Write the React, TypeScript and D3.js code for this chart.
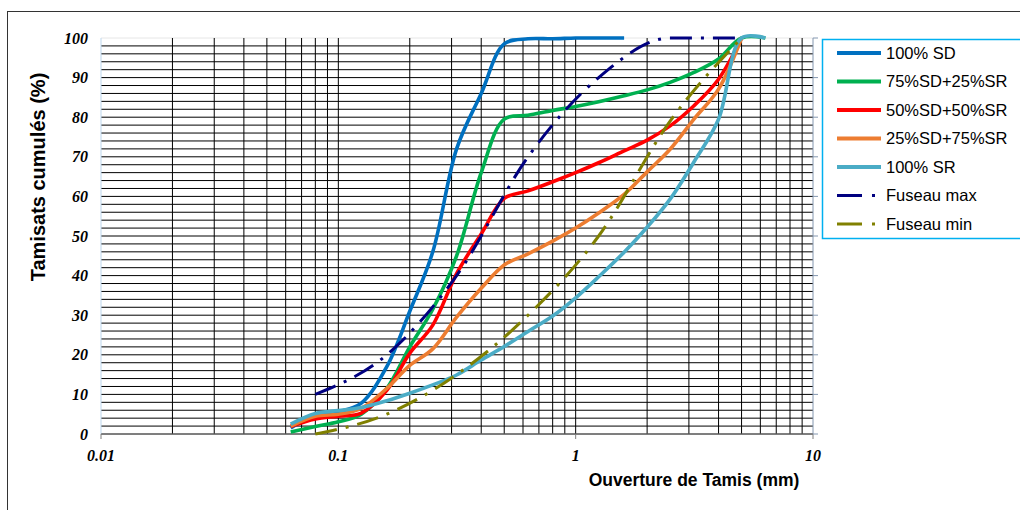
import React from 'react';
import * as d3 from 'd3';

// ---- data ----
const sieveSizes = [0.063, 0.08, 0.1, 0.125, 0.16, 0.2, 0.25, 0.315, 0.4, 0.5, 0.63, 0.8, 1, 1.25, 1.6, 2, 2.5, 3.15, 4, 5, 6.3];
const sd100Values = [1.5, 4.8, 5.6, 7.8, 17, 31, 46, 72, 86, 98.5, 99.8, 99.8, 100, 100, 100];
const sd75Values = [0.5, 1.9, 3.1, 5, 11.5, 22, 31.5, 45, 66, 79.5, 80.5, 81.7, 82.7, 83.9, 85.4, 86.9, 88.8, 91.3, 94.7, 100, 100];
const sd50Values = [1.9, 3.8, 4.5, 5.3, 11, 20.4, 27.5, 40.5, 50.5, 59.5, 61.4, 63.7, 66, 68.5, 71.5, 74.2, 77.8, 82.9, 89.6, 100];
const sd25Values = [2, 4.5, 5, 6.5, 11.5, 17.3, 21.5, 29.5, 36.8, 42.7, 45.5, 48.7, 52, 55.8, 60.5, 66.2, 71.9, 79.5, 87.1, 100];
const sr100Values = [2.5, 5.2, 5.9, 6.7, 8.4, 10.3, 12.4, 14.9, 18.7, 22.1, 25.9, 29.8, 34.4, 39.7, 45.9, 52.2, 59.3, 68.7, 79.5, 100, 100];
const fuseauSizes = [0.08, 0.16, 0.315, 0.63, 1.25, 2.5, 5];
const fuseauMaxValues = [10, 20, 40, 70, 90, 100, 100];
const fuseauMinValues = [0, 5, 15, 30, 50, 79, 100];

const seriesNames = ['100% SD', '75%SD+25%SR', '50%SD+50%SR', '25%SD+75%SR', '100% SR', 'Fuseau max', 'Fuseau min'];
const seriesColors = ['#0070C0', '#00B050', '#FF0000', '#ED7D31', '#4BACC6', '#000080', '#808000'];

const yTickValues = [0, 10, 20, 30, 40, 50, 60, 70, 80, 90, 100];
const xTickValues = [0.01, 0.1, 1, 10];
const xTickLabels = ['0.01', '0.1', '1', '10'];
const xTitle = 'Ouverture de Tamis (mm)';
const yTitle = 'Tamisats cumulés (%)';

const seriesList = [
  { name: seriesNames[0], color: seriesColors[0], xs: sieveSizes, ys: sd100Values, dashed: false },
  { name: seriesNames[1], color: seriesColors[1], xs: sieveSizes, ys: sd75Values, dashed: false },
  { name: seriesNames[2], color: seriesColors[2], xs: sieveSizes, ys: sd50Values, dashed: false },
  { name: seriesNames[3], color: seriesColors[3], xs: sieveSizes, ys: sd25Values, dashed: false },
  { name: seriesNames[4], color: seriesColors[4], xs: sieveSizes, ys: sr100Values, dashed: false },
  { name: seriesNames[5], color: seriesColors[5], xs: fuseauSizes, ys: fuseauMaxValues, dashed: true },
  { name: seriesNames[6], color: seriesColors[6], xs: fuseauSizes, ys: fuseauMinValues, dashed: true },
];

const W = 1020;
const H = 510;
const L = 101, R = 813, T = 38, B = 434;

export default function App() {
  const x = d3.scaleLog().domain([0.01, 10]).range([L, R]);
  const y = d3.scaleLinear().domain([0, 100]).range([B, T]);

  const minorX: number[] = [];
  for (let e = -2; e <= 0; e++) {
    for (let m = 1; m <= 9; m++) minorX.push(m * Math.pow(10, e));
  }
  minorX.push(10);
  const gridY = d3.range(0, 101, 2);

  const smoothLine = d3
    .line<[number, number]>()
    .x((d) => x(d[0]))
    .y((d) => y(d[1]))
    .curve(d3.curveCatmullRom.alpha(0.5));
  const monoLine = d3
    .line<[number, number]>()
    .x((d) => x(d[0]))
    .y((d) => y(d[1]))
    .curve(d3.curveMonotoneX);

  const dash = '22 9 3 9';
  const legendY0 = 53;
  const legendStep = 28.5;

  return (
    <svg width={W} height={H} style={{ position: 'absolute', left: 0, top: 0, background: '#fff' }}>
      <rect x={7.5} y={11.5} width={1100} height={600} fill="#fff" stroke="#333" strokeWidth={1} />
      {/* horizontal grid */}
      {gridY.map((v) => (
        <line key={'h' + v} x1={L} x2={R} y1={y(v)} y2={y(v)} stroke={v === 100 ? '#e6e6e6' : '#000'} strokeWidth={1} />
      ))}
      {/* vertical grid */}
      {minorX.map((v, i) => (
        <line key={'v' + i} x1={x(v)} x2={x(v)} y1={T} y2={B} stroke={v === 0.01 ? '#BDD7EE' : v === 10 ? '#8497B0' : '#000'} strokeWidth={1} />
      ))}
      {/* bottom axis */}
      <line x1={L} x2={R} y1={B} y2={B} stroke="#7f7f7f" strokeWidth={1.2} />
      {xTickValues.map((v) => (
        <line key={'xt' + v} x1={x(v)} x2={x(v)} y1={B} y2={B + 5} stroke="#7f7f7f" strokeWidth={1} />
      ))}
      {/* right axis ticks */}
      {yTickValues.map((v) => (
        <line key={'rt' + v} x1={R} x2={R + 5} y1={y(v)} y2={y(v)} stroke="#8497B0" strokeWidth={1} />
      ))}
      {/* series */}
      {seriesList.map((s) => {
        const pts = s.xs.slice(0, s.ys.length).map((xv, i) => [xv, s.ys[i]] as [number, number]);
        return (
          <path
            key={s.name}
            d={(s.dashed ? monoLine(pts) : smoothLine(pts)) || ''}
            fill="none"
            stroke={s.color}
            strokeWidth={s.dashed ? 3 : 3.6}
            strokeDasharray={s.dashed ? dash : undefined}
            strokeLinejoin="round"
          />
        );
      })}
      {/* y tick labels */}
      {yTickValues.map((v) => (
        <text
          key={'yl' + v}
          x={88}
          y={y(v)}
          dy="0.35em"
          textAnchor="end"
          fontFamily="'Liberation Serif', 'Times New Roman', serif"
          fontWeight="bold"
          fontStyle="italic"
          fontSize={16}
          fill="#000"
        >
          {v}
        </text>
      ))}
      {/* x tick labels */}
      {xTickValues.map((v, i) => (
        <text
          key={'xl' + v}
          x={x(v)}
          y={461}
          textAnchor="middle"
          fontFamily="'Liberation Serif', 'Times New Roman', serif"
          fontWeight="bold"
          fontStyle="italic"
          fontSize={16}
          fill="#000"
        >
          {xTickLabels[i]}
        </text>
      ))}
      {/* axis titles */}
      <text x={694} y={486} textAnchor="middle" fontFamily="'Liberation Sans', Arial, sans-serif" fontWeight="bold" fontSize={17.5} fill="#000">
        {xTitle}
      </text>
      <text
        transform={`translate(45,177) rotate(-90)`}
        textAnchor="middle"
        fontFamily="'Liberation Sans', Arial, sans-serif"
        fontWeight="bold"
        fontSize={20}
        fill="#000"
      >
        {yTitle}
      </text>
      {/* legend */}
      <rect x={822.5} y={39.5} width={220} height={199} fill="#fff" stroke="#00B0F0" strokeWidth={1.5} />
      {seriesList.map((s, i) => {
        const ly = legendY0 + i * legendStep;
        return (
          <g key={'lg' + s.name}>
            <line
              x1={837}
              x2={881}
              y1={ly}
              y2={ly}
              stroke={s.color}
              strokeWidth={s.dashed ? 3 : 4}
              strokeDasharray={s.dashed ? '25 10 3 10' : undefined}
            />
            <text x={886} y={ly} dy="0.36em" fontFamily="'Liberation Sans', Arial, sans-serif" fontSize={16.5} fill="#000">
              {s.name}
            </text>
          </g>
        );
      })}
    </svg>
  );
}
